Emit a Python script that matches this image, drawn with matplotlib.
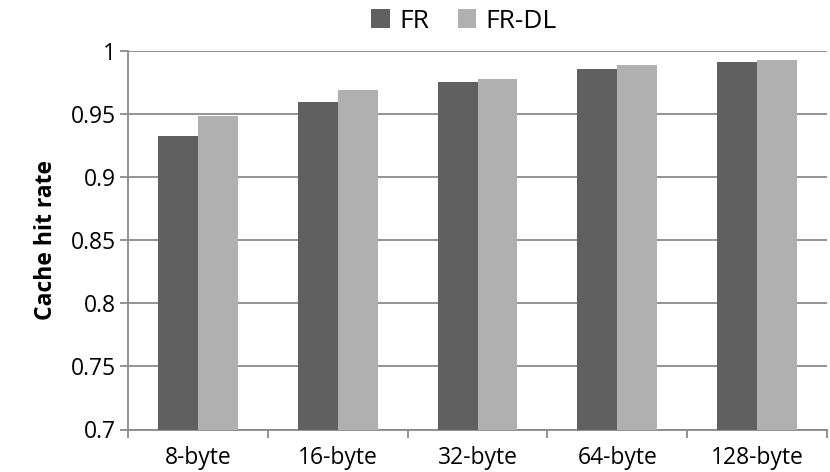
import matplotlib
matplotlib.use("Agg")
import matplotlib.pyplot as plt
import numpy as np

categories = ["8-byte", "16-byte", "32-byte", "64-byte", "128-byte"]
fr = [0.9325, 0.9596, 0.9753, 0.9854, 0.9912]
fr_dl = [0.9482, 0.9687, 0.9774, 0.9888, 0.9928]
yticks = [0.7, 0.75, 0.8, 0.85, 0.9, 0.95, 1.0]
ytick_labels = ["0.7", "0.75", "0.8", "0.85", "0.9", "0.95", "1"]

plt.rcParams['font.family'] = ['Open Sans', 'DejaVu Sans']

fig = plt.figure(figsize=(8.3, 4.72), dpi=100)
ax = fig.add_axes([128 / 830, (472 - 429.5) / 472, 699 / 830, 379 / 472])

x = np.arange(len(categories))
w = 0.285
gray = "#8a8a8a"
ax.bar(x - w/2, fr, width=w, color="#606060", label="FR", zorder=3)
ax.bar(x + w/2, fr_dl, width=w, color="#b0b0b0", label="FR-DL", zorder=3)

ax.set_ylim(0.7, 1.0)
ax.set_xlim(-0.5, len(categories) - 0.5)
ax.set_yticks(yticks)
ax.set_yticklabels(ytick_labels, fontsize=16.5)
ax.yaxis.grid(True, color=gray, linewidth=1.3, zorder=0)
ax.set_axisbelow(True)

ax.set_xticks(np.arange(len(categories) + 1) - 0.5)
ax.set_xticklabels([])
ax.set_xticks(x, minor=True)
ax.set_xticklabels(categories, minor=True, fontsize=16.5)
ax.tick_params(axis="x", which="minor", length=0, pad=12)
ax.tick_params(axis="x", which="major", length=6, color=gray, width=1.3)
ax.tick_params(axis="y", length=6, color=gray, width=1.3, pad=3)

for s in ["top", "right"]:
    ax.spines[s].set_visible(False)
for s in ["left", "bottom"]:
    ax.spines[s].set_color(gray)
    ax.spines[s].set_linewidth(1.3)

ax.set_ylabel("Cache hit rate", fontsize=16.5, fontweight="bold", labelpad=9)

ax.legend(loc="center", bbox_to_anchor=(464 / 830, 1 - 21 / 472), bbox_transform=fig.transFigure,
          ncol=2, frameon=False,
          fontsize=19, handlelength=0.7, handleheight=0.7, handletextpad=0.35,
          columnspacing=1.1)

fig.savefig("out.png", dpi=100)
